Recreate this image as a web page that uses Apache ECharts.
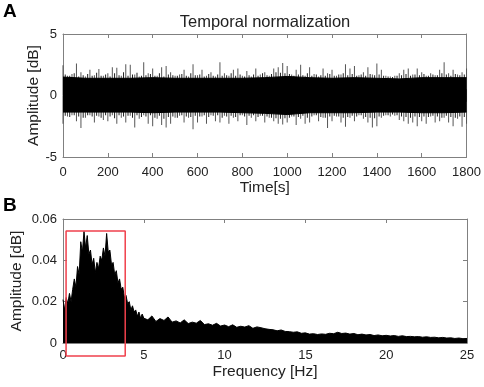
<!DOCTYPE html>
<html>
<head>
<meta charset="utf-8">
<script src="https://cdn.jsdelivr.net/npm/echarts@6/dist/echarts.min.js"></script>
<style>
  html, body { margin: 0; padding: 0; background: #fff; }
  #chart { width: 484px; height: 387px; }
</style>
</head>
<body>
<div id="chart"></div>
<script>
// panel A: time series, spikes read every 20 s
const timeA = [
  0, 20, 40, 60, 80, 100, 120, 140, 160, 180,
  200, 220, 240, 260, 280, 300, 320, 340, 360, 380,
  400, 420, 440, 460, 480, 500, 520, 540, 560, 580,
  600, 620, 640, 660, 680, 700, 720, 740, 760, 780,
  800, 820, 840, 860, 880, 900, 920, 940, 960, 980,
  1000, 1020, 1040, 1060, 1080, 1100, 1120, 1140, 1160, 1180,
  1200, 1220, 1240, 1260, 1280, 1300, 1320, 1340, 1360, 1380,
  1400, 1420, 1440, 1460, 1480, 1500, 1520, 1540, 1560, 1580,
  1600, 1620, 1640, 1660, 1680, 1700, 1720, 1740, 1760, 1780,
  1800
]
const peakUp = [
  2.45, 1.6, 1.75, 2.6, 1.9, 1.55, 2.1, 1.65, 2.15, 1.6,
  1.8, 2.3, 2.25, 1.6, 2.55, 2.5, 1.7, 1.55, 2.7, 1.8,
  2.2, 1.6, 2.3, 2.4, 1.9, 1.6, 1.7, 2.1, 1.55, 2.55,
  1.65, 2.1, 1.6, 1.9, 1.55, 2.7, 1.8, 1.6, 2.1, 2.2,
  1.6, 2.0, 1.55, 2.2, 1.7, 1.9, 1.6, 2.2, 2.3, 2.65,
  2.4, 1.7, 2.1, 2.5, 1.6, 2.3, 1.75, 1.55, 2.2, 1.8,
  2.1, 1.6, 1.7, 2.55, 2.2, 2.4, 1.65, 1.9, 2.3, 1.7,
  2.6, 2.1, 1.6, 1.55, 1.6, 1.8, 2.1, 2.2, 1.7, 2.2,
  1.9, 1.6, 1.8, 1.65, 2.1, 2.7, 1.8, 2.1, 1.7, 1.9,
  2.2
]
const peakDown = [
  -2.3, -1.7, -1.6, -2.1, -2.65, -1.8, -1.6, -2.2, -1.7, -2.0,
  -2.1, -1.6, -2.3, -1.8, -2.2, -1.65, -2.6, -1.9, -1.6, -2.3,
  -2.5, -1.9, -2.4, -2.6, -2.3, -1.8, -1.65, -2.2, -1.8, -2.75,
  -2.2, -1.7, -2.3, -1.6, -2.1, -2.2, -1.65, -2.3, -1.8, -2.1,
  -1.6, -2.4, -1.8, -2.1, -1.65, -2.2, -1.8, -2.1, -2.3, -2.35,
  -2.2, -1.7, -2.4, -1.9, -2.3, -2.2, -1.6, -2.1, -1.8, -2.65,
  -2.1, -1.7, -2.2, -2.55, -1.8, -2.1, -1.6, -1.9, -2.2, -2.6,
  -2.5, -1.8, -1.6, -1.7, -1.65, -2.0, -2.1, -2.3, -2.2, -2.5,
  -2.1, -2.3, -1.7, -2.2, -2.1, -1.8, -2.2, -2.5, -1.9, -2.55,
  -2.3
]
// small spikes at the edge of the dense band
const fringeTime = [
  10, 30, 50, 70, 90, 110, 130, 150, 170, 190,
  210, 230, 250, 270, 290, 310, 330, 350, 370, 390,
  410, 430, 450, 470, 490, 510, 530, 550, 570, 590,
  610, 630, 650, 670, 690, 710, 730, 750, 770, 790,
  810, 830, 850, 870, 890, 910, 930, 950, 970, 990,
  1010, 1030, 1050, 1070, 1090, 1110, 1130, 1150, 1170, 1190,
  1210, 1230, 1250, 1270, 1290, 1310, 1330, 1350, 1370, 1390,
  1410, 1430, 1450, 1470, 1490, 1510, 1530, 1550, 1570, 1590,
  1610, 1630, 1650, 1670, 1690, 1710, 1730, 1750, 1770, 1790
]
const fringeUp = [
  1.7, 1.6, 1.8, 1.55, 1.65, 1.75, 1.6, 1.85, 1.6, 1.7,
  1.55, 1.8, 1.65, 1.9, 1.6, 1.7, 1.85, 1.6, 1.65, 1.75,
  1.6, 1.8, 1.55, 1.7, 1.65, 1.6, 1.75, 1.6, 1.8, 1.65,
  1.7, 1.55, 1.75, 1.6, 1.7, 1.6, 1.65, 1.8, 1.6, 1.7,
  1.55, 1.65, 1.7, 1.6, 1.8, 1.65, 1.75, 1.9, 1.85, 1.8,
  1.75, 1.6, 1.7, 1.65, 1.8, 1.6, 1.7, 1.65, 1.6, 1.75,
  1.6, 1.7, 1.8, 1.65, 1.75, 1.6, 1.7, 1.6, 1.75, 1.65,
  1.7, 1.6, 1.55, 1.5, 1.6, 1.65, 1.75, 1.6, 1.7, 1.65,
  1.75, 1.6, 1.7, 1.65, 1.8, 1.7, 1.6, 1.75, 1.65, 1.7
]
const fringeDown = [
  -1.65, -1.75, -1.6, -1.7, -1.8, -1.6, -1.7, -1.65, -1.8, -1.6,
  -1.7, -1.85, -1.6, -1.7, -1.65, -1.8, -1.6, -1.75, -1.7, -1.6,
  -1.8, -1.65, -1.9, -1.75, -1.7, -1.8, -1.6, -1.7, -1.75, -1.65,
  -1.7, -1.6, -1.75, -1.65, -1.6, -1.8, -1.7, -1.65, -1.75, -1.6,
  -1.7, -1.65, -1.6, -1.75, -1.65, -1.7, -1.8, -1.85, -1.9, -1.85,
  -1.8, -1.7, -1.75, -1.65, -1.8, -1.7, -1.6, -1.75, -1.8, -1.7,
  -1.65, -1.7, -1.8, -1.75, -1.65, -1.7, -1.6, -1.75, -1.8, -1.85,
  -1.7, -1.65, -1.6, -1.55, -1.6, -1.7, -1.75, -1.8, -1.7, -1.75,
  -1.7, -1.75, -1.65, -1.7, -1.8, -1.65, -1.75, -1.8, -1.7, -1.75
]
// dense core of the signal, every 100 s
const coreTime = [0, 100, 200, 300, 400, 500, 600, 700, 800, 900, 1000, 1100, 1200, 1300, 1400, 1500, 1600, 1700, 1800]
const coreUp = [1.5, 1.4, 1.4, 1.4, 1.45, 1.4, 1.4, 1.4, 1.4, 1.45, 1.55, 1.45, 1.4, 1.45, 1.4, 1.35, 1.45, 1.45, 1.45]
const coreDown = [-1.35, -1.35, -1.35, -1.35, -1.4, -1.35, -1.35, -1.35, -1.4, -1.45, -1.55, -1.4, -1.4, -1.4, -1.35, -1.35, -1.4, -1.4, -1.35]

// panel B: spectrum
const freqLow = [
  0, 0.1, 0.2, 0.3, 0.4, 0.5, 0.6, 0.7, 0.8, 0.9,
  1.0, 1.1, 1.2, 1.3, 1.4, 1.5, 1.6, 1.7, 1.8, 1.9,
  2.0, 2.1, 2.2, 2.3, 2.4, 2.5, 2.6, 2.7, 2.8, 2.9,
  3.0, 3.1, 3.2, 3.3, 3.4, 3.5, 3.6, 3.7, 3.8, 3.9,
  4.0, 4.1, 4.2, 4.3, 4.4, 4.5, 4.6, 4.7, 4.8, 4.9,
  5.0
]
const ampLow = [
  0.021, 0.016, 0.022, 0.019, 0.024, 0.020, 0.026, 0.031, 0.027, 0.037,
  0.033, 0.049, 0.044, 0.054, 0.046, 0.052, 0.043, 0.045, 0.038, 0.041,
  0.034, 0.039, 0.036, 0.042, 0.040, 0.046, 0.042, 0.053, 0.044, 0.045,
  0.038, 0.039, 0.033, 0.035, 0.029, 0.031, 0.026, 0.027, 0.022, 0.023,
  0.019, 0.020, 0.016, 0.018, 0.015, 0.016, 0.013, 0.015, 0.012, 0.014,
  0.012
]
const freqHigh = [
  5.25, 5.5, 5.75, 6, 6.25, 6.5, 6.75, 7, 7.25, 7.5,
  7.75, 8, 8.25, 8.5, 8.75, 9, 9.25, 9.5, 9.75, 10,
  10.25, 10.5, 10.75, 11, 11.25, 11.5, 11.75, 12, 12.25, 12.5,
  12.75, 13, 13.25, 13.5, 13.75, 14, 14.25, 14.5, 14.75, 15,
  15.25, 15.5, 15.75, 16, 16.25, 16.5, 16.75, 17, 17.25, 17.5,
  17.75, 18, 18.25, 18.5, 18.75, 19, 19.25, 19.5, 19.75, 20,
  20.25, 20.5, 20.75, 21, 21.25, 21.5, 21.75, 22, 22.25, 22.5,
  22.75, 23, 23.25, 23.5, 23.75, 24, 24.25, 24.5, 24.75, 25
]
const ampHigh = [
  0.0112, 0.0131, 0.0104, 0.0118, 0.0109, 0.0126, 0.0101, 0.0107, 0.0097, 0.0112,
  0.0094, 0.0101, 0.0096, 0.0109, 0.0089, 0.0093, 0.0086, 0.0095, 0.0082, 0.0087,
  0.0079, 0.0088, 0.0076, 0.0081, 0.0077, 0.0084, 0.0071, 0.0078, 0.0074, 0.0069,
  0.0066, 0.0064, 0.0059, 0.0063, 0.0056, 0.0055, 0.0052, 0.0054, 0.0047, 0.0049,
  0.0043, 0.0045, 0.0041, 0.0044, 0.0042, 0.0047, 0.0045, 0.0052, 0.0046, 0.0048,
  0.0043, 0.0046, 0.004, 0.0043, 0.0039, 0.0041, 0.0036, 0.0039, 0.0035, 0.0037,
  0.0034, 0.0036, 0.0032, 0.0035, 0.0031, 0.0032, 0.003, 0.0031, 0.0028, 0.003,
  0.0027, 0.0028, 0.0025, 0.0027, 0.0024, 0.0025, 0.0022, 0.0024, 0.0021, 0.0022
]
// red box around the 0-4 Hz band
const boxFreq = [0.19, 3.85]
const boxAmp = [-0.0063, 0.0542]

const font = 'Liberation Sans, Arial, Helvetica, sans-serif'
const axisColor = '#808080'
const textColor = '#222'

function zip(xs, ys) {
  return xs.map((x, i) => [x, ys[i]])
}

function axis(grid, pos, min, max, interval, extra) {
  return Object.assign({
    gridIndex: grid,
    type: 'value',
    position: pos,
    min: min,
    max: max,
    interval: interval,
    axisLine: { show: true, onZero: false, lineStyle: { color: axisColor, width: 1 } },
    axisTick: { show: true, inside: true, length: 4, lineStyle: { color: axisColor } },
    axisLabel: { show: false },
    splitLine: { show: false }
  }, extra || {})
}

function label(margin) {
  return { show: true, margin: margin, fontSize: 13, color: textColor, fontFamily: font, formatter: v => String(v) }
}
function named(text, gap) {
  return {
    name: text, nameLocation: 'middle', nameGap: gap, nameMoveOverlap: false,
    nameTextStyle: { fontSize: 15.5, color: textColor, fontFamily: font }
  }
}

function spikes(xs, ys, color) {
  return {
    type: 'bar', xAxisIndex: 0, yAxisIndex: 0,
    data: zip(xs, ys), barWidth: 1, barGap: '-100%',
    itemStyle: { color: color }, silent: true
  }
}

const spectrum = zip(freqLow, ampLow).concat(zip(freqHigh, ampHigh))
const box = [
  [boxFreq[0], boxAmp[0]], [boxFreq[0], boxAmp[1]],
  [boxFreq[1], boxAmp[1]], [boxFreq[1], boxAmp[0]],
  [boxFreq[0], boxAmp[0]]
]

const chart = echarts.init(document.getElementById('chart'))
chart.setOption({
  animation: false,
  backgroundColor: '#fff',
  grid: [
    { left: 63, top: 34, width: 404, height: 123 },
    { left: 63, top: 219, width: 404, height: 124 }
  ],
  graphic: [
    { type: 'text', x: 265, y: 22, style: { text: 'Temporal normalization', align: 'center', verticalAlign: 'middle', fontSize: 16.5, fontFamily: font, fill: textColor } },
    { type: 'text', x: 3, y: 12, style: { text: 'A', verticalAlign: 'middle', fontSize: 19, fontWeight: 'bold', fontFamily: font, fill: '#000' } },
    { type: 'text', x: 3, y: 206, style: { text: 'B', verticalAlign: 'middle', fontSize: 19, fontWeight: 'bold', fontFamily: font, fill: '#000' } }
  ],
  xAxis: [
    axis(0, 'bottom', 0, 1800, 200, Object.assign({ axisLabel: label(9) }, named('Time[s]', 23))),
    axis(0, 'top', 0, 1800, 200),
    axis(1, 'bottom', 0, 25, 5, Object.assign({ axisLabel: label(6) }, named('Frequency [Hz]', 21))),
    axis(1, 'top', 0, 25, 5)
  ],
  yAxis: [
    axis(0, 'left', -5, 5, 5, Object.assign({ axisLabel: label(6) }, named('Amplitude [dB]', 21))),
    axis(0, 'right', -5, 5, 5),
    axis(1, 'left', 0, 0.06, 0.02, Object.assign({ axisLabel: label(6) }, named('Amplitude [dB]', 38))),
    axis(1, 'right', 0, 0.06, 0.02)
  ],
  series: [
    spikes(timeA, peakUp, '#555'),
    spikes(timeA, peakDown, '#555'),
    spikes(fringeTime, fringeUp, '#222'),
    spikes(fringeTime, fringeDown, '#222'),
    {
      type: 'line', xAxisIndex: 0, yAxisIndex: 0,
      data: zip(coreTime, coreUp), symbol: 'none',
      lineStyle: { color: '#000', width: 1 }, areaStyle: { color: '#000', opacity: 1, origin: -0.5 }
    },
    {
      type: 'line', xAxisIndex: 0, yAxisIndex: 0,
      data: zip(coreTime, coreDown), symbol: 'none',
      lineStyle: { color: '#000', width: 1 }, areaStyle: { color: '#000', opacity: 1, origin: 0.5 }
    },
    {
      type: 'line', xAxisIndex: 2, yAxisIndex: 2,
      data: spectrum, symbol: 'none',
      lineStyle: { color: '#000', width: 1 }, areaStyle: { color: '#000', opacity: 1 }
    },
    {
      type: 'line', xAxisIndex: 2, yAxisIndex: 2,
      data: box, symbol: 'none', clip: false, z: 5,
      lineStyle: { color: '#f0404c', width: 1.5 }
    }
  ]
})
</script>
</body>
</html>
